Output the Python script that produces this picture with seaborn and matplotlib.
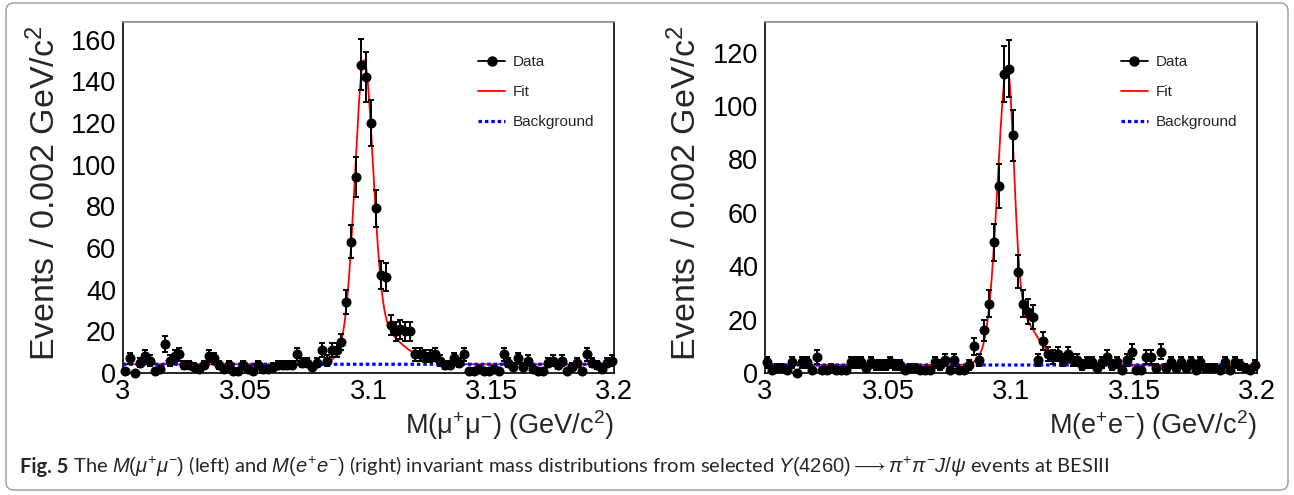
import matplotlib
matplotlib.use("Agg")
import matplotlib.pyplot as plt
import numpy as np
import pandas as pd
import seaborn as sns
from matplotlib.lines import Line2D
from matplotlib.patches import FancyBboxPatch
from matplotlib.ticker import MultipleLocator, FixedLocator

# histogram range: 100 bins of 2 MeV
mass_lo, mass_hi, bin_width = 3.0, 3.2, 0.002

mumu_counts = [1, 7, 0, 5, 8, 6, 1, 2, 14, 6,
               8, 9, 4, 4, 3, 2, 4, 8, 7, 4,
               2, 4, 1, 1, 4, 2, 1, 4, 2, 2,
               3, 4, 4, 4, 4, 9, 5, 5, 3, 5,
               11, 6, 11, 11, 15, 34, 63, 94, 148, 142,
               120, 79, 47, 46, 23, 20, 21, 20, 20, 9,
               9, 8, 8, 9, 6, 4, 4, 7, 5, 9,
               1, 1, 2, 1, 1, 2, 1, 9, 5, 3,
               7, 3, 6, 2, 1, 1, 5, 6, 4, 6,
               1, 3, 5, 1, 9, 5, 4, 2, 5, 6]

ee_counts = [4, 1, 2, 2, 1, 4, 0, 4, 4, 1,
             6, 1, 1, 2, 1, 1, 1, 4, 4, 4,
             2, 4, 3, 3, 3, 4, 3, 3, 1, 2,
             2, 1, 1, 1, 4, 3, 5, 1, 5, 1,
             1, 3, 10, 5, 16, 26, 49, 70, 112, 114,
             89, 38, 26, 23, 21, 5, 12, 7, 6, 7,
             5, 7, 5, 5, 3, 4, 4, 2, 4, 6,
             3, 4, 1, 5, 8, 1, 1, 6, 6, 2,
             8, 2, 4, 2, 4, 2, 4, 1, 4, 2,
             2, 2, 1, 4, 1, 4, 3, 2, 1, 3]

# fit curve parameters (core + tail, flat background)
mumu_fit = dict(mean=3.0982, a1=124, s1l=0.0036, s1r=0.0036,
                a2=22, s2l=0.006, s2r=0.012, bkg=4.2)
ee_fit = dict(mean=3.0985, a1=88, s1l=0.0037, s1r=0.0026,
              a2=24, s2l=0.0055, s2r=0.0095, bkg=3.0)

mumu_ymax = 168.5
ee_ymax = 131.5

W, H = 1294, 495

sns.set_theme(style="white")
plt.rcParams["font.family"] = ["Liberation Sans", "DejaVu Sans"]
plt.rcParams["mathtext.fontset"] = "custom"
plt.rcParams["mathtext.rm"] = "Liberation Sans"
plt.rcParams["mathtext.it"] = "Liberation Sans:italic"
plt.rcParams["mathtext.bf"] = "Liberation Sans:bold"


def bifur(x, mean, sl, sr):
    s = np.where(x < mean, sl, sr)
    return np.exp(-0.5 * ((x - mean) / s) ** 2)


def fit_shape(x, p):
    return (p["bkg"] + p["a1"] * bifur(x, p["mean"], p["s1l"], p["s1r"])
            + p["a2"] * bifur(x, p["mean"], p["s2l"], p["s2r"]))


def draw_panel(ax, counts, fit, ymax, xlabel):
    centers = mass_lo + bin_width * (np.arange(len(counts)) + 0.5)
    df = pd.DataFrame({"mass": centers, "events": counts})
    err = np.sqrt(df["events"].to_numpy(dtype=float))

    xs = np.linspace(mass_lo, mass_hi, 1200)
    curve = pd.DataFrame({"mass": xs, "fit": fit_shape(xs, fit),
                          "bkg": np.full_like(xs, fit["bkg"])})
    sns.lineplot(data=curve, x="mass", y="fit", color="red", lw=1.3, ax=ax, zorder=2)
    sns.lineplot(data=curve, x="mass", y="bkg", color="blue", lw=2.3,
                 linestyle=(0, (1.1, 0.9)), ax=ax, zorder=3)
    ax.errorbar(df["mass"], df["events"], yerr=err, fmt="none", ecolor="black",
                elinewidth=1.4, capsize=2.4, capthick=1.4, zorder=4)
    sns.scatterplot(data=df, x="mass", y="events", color="black", s=52,
                    edgecolor="black", linewidth=0, ax=ax, zorder=5, clip_on=False)

    ax.set_xlim(mass_lo, mass_hi)
    ax.set_ylim(0, ymax)
    ax.set_xlabel("")
    ax.set_ylabel("")
    ax.xaxis.set_major_locator(FixedLocator([3.0, 3.05, 3.1, 3.15, 3.2]))
    ax.set_xticklabels(["3", "3.05", "3.1", "3.15", "3.2"])
    ax.xaxis.set_minor_locator(MultipleLocator(0.005))
    ax.yaxis.set_major_locator(MultipleLocator(20))
    ax.yaxis.set_minor_locator(MultipleLocator(5))
    ax.tick_params(which="both", direction="in", top=False, right=False,
                   colors="black", labelsize=19.5)
    ax.tick_params(which="major", length=8.5, width=1.0)
    ax.tick_params(which="minor", length=4.3, width=1.0)
    ax.tick_params(axis="x", pad=4)
    ax.tick_params(axis="y", pad=5)
    for side in ["left", "bottom", "right"]:
        ax.spines[side].set_color("black")
        ax.spines[side].set_linewidth(1.2)
    ax.spines["top"].set_color("#888888")
    ax.spines["top"].set_linewidth(1.2)

    ax.text(1.0, -0.148, xlabel, transform=ax.transAxes, ha="right", va="center",
            fontsize=19.5)
    ax.text(-0.16, 0.99, r"Events / 0.002 GeV/c$^{2}$", transform=ax.transAxes,
            rotation=90, ha="center", va="top", fontsize=24.5)

    handles = [
        (Line2D([], [], color="black", lw=1.3),
         Line2D([], [], color="black", marker="o", markersize=6.5, ls="none")),
        Line2D([], [], color="red", lw=1.3),
        Line2D([], [], color="blue", lw=2.3, linestyle=(0, (1.1, 0.9))),
    ]
    ax.legend(handles, ["Data", "Fit", "Background"], loc="upper left",
              bbox_to_anchor=(0.695, 0.945), frameon=False, fontsize=11,
              handlelength=1.8, labelspacing=1.05, handletextpad=0.5)


fig = plt.figure(figsize=(W / 100, H / 100), dpi=100)

# outer rounded figure box
bg = fig.add_axes([0, 0, 1, 1], zorder=-1)
bg.set_xlim(0, W)
bg.set_ylim(H, 0)
bg.axis("off")
bg.add_patch(FancyBboxPatch((6, 3), W - 12, H - 8,
                            boxstyle="round,pad=0,rounding_size=8",
                            fill=False, edgecolor="#9a9a9a", lw=1.0))

ax_l = fig.add_axes([123 / W, (H - 373) / H, 491 / W, 351 / H])
ax_r = fig.add_axes([765 / W, (H - 373) / H, 492 / W, 351 / H])

draw_panel(ax_l, mumu_counts, mumu_fit, mumu_ymax,
           r"M($\mathrm{\mu^{+}\mu^{-}}$) (GeV/c$^{2}$)")
draw_panel(ax_r, ee_counts, ee_fit, ee_ymax,
           r"M($\mathrm{e^{+}e^{-}}$) (GeV/c$^{2}$)")

cap = fig.text(20 / W, (H - 467) / H, "Fig. 5", fontsize=14.5, fontweight="bold",
               family=["Lato", "DejaVu Sans"], va="center", ha="left")
plt.annotate(r" The $M(\mu^{+}\mu^{-})$ (left) and $M(e^{+}e^{-})$ (right) invariant mass "
             r"distributions from selected $Y(4260)\longrightarrow\pi^{+}\pi^{-}J/\psi$ events at BESIII",
             xy=(1, 0.5), xycoords=cap, va="center", ha="left", fontsize=14.5,
             family=["Lato", "DejaVu Sans"])

fig.savefig("out.png", dpi=100)
